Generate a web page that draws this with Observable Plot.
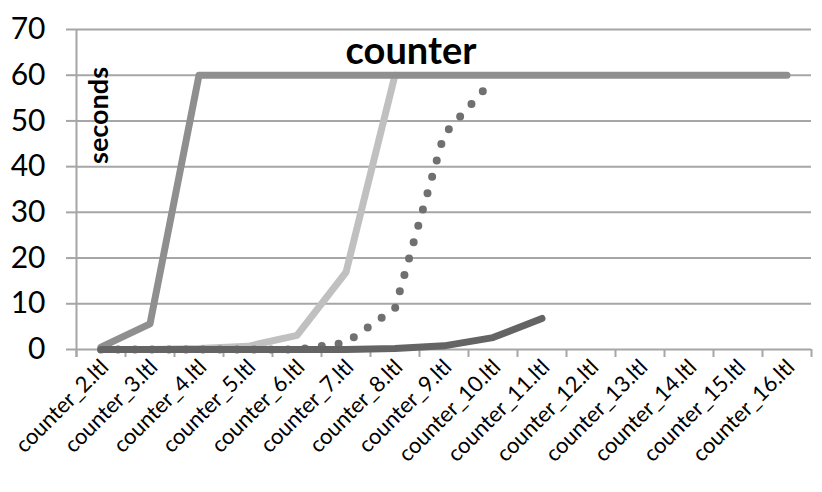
<!DOCTYPE html>
<html>
<head>
<meta charset="utf-8">
<script src="https://cdn.jsdelivr.net/npm/d3@7"></script>
<script src="https://cdn.jsdelivr.net/npm/@observablehq/plot@0.6"></script>
<style>
  html, body { margin: 0; padding: 0; background: #fff; }
  #chart { width: 822px; height: 492px; }
</style>
</head>
<body>
<div id="chart"></div>
<script>
const categories = ["counter_2.ltl","counter_3.ltl","counter_4.ltl","counter_5.ltl","counter_6.ltl",
  "counter_7.ltl","counter_8.ltl","counter_9.ltl","counter_10.ltl","counter_11.ltl","counter_12.ltl",
  "counter_13.ltl","counter_14.ltl","counter_15.ltl","counter_16.ltl"];
const seriesA = [0.5, 5.6, 60, 60, 60, 60, 60, 60, 60, 60, 60, 60, 60, 60, 60];
const seriesB = [0, 0, 0.2, 0.7, 3.1, 16.9, 60];
const seriesC = [0, 0, 0, 0, 0, 1.5, 9, 47, 59];
const seriesD = [0, 0, 0, 0, 0, 0, 0.2, 0.8, 2.6, 6.8];
const yTicks = [0, 10, 20, 30, 40, 50, 60, 70];
const titleText = "counter";
const yLabel = "seconds";

const rows = s => s.map((v, i) => ({i, v}));
const idx = categories.map((c, i) => i);
const bounds = [...idx.map(i => i - 0.5), categories.length - 0.5];
const grid = "#a6a6a6";

const chart = Plot.plot({
  width: 822,
  height: 492,
  marginLeft: 76,
  marginRight: 11,
  marginTop: 29,
  marginBottom: 143,
  style: {fontFamily: "Lato, 'Open Sans', sans-serif", color: "#000", background: "#fff", overflow: "visible"},
  x: {type: "linear", domain: [-0.5, categories.length - 0.5]},
  y: {domain: [0, 70]},
  marks: [
    Plot.ruleY(yTicks, {stroke: grid, strokeWidth: 2}),
    Plot.axisY(yTicks, {tickSize: 10, tickPadding: 21, fontSize: 30, stroke: grid, strokeWidth: 2, tickFormat: d => d, label: null}),
    Plot.ruleX([bounds[0]], {stroke: grid, strokeWidth: 2, insetBottom: -8}),
    Plot.axisX(bounds, {tickSize: 8, stroke: grid, strokeWidth: 2, tickFormat: () => "", label: null}),
    Plot.axisX(idx, {tickSize: 0, tickPadding: 14, dx: 4, tickRotate: -45, fontSize: 22, tickFormat: i => categories[i], label: null}),
    Plot.lineY(rows(seriesB), {x: "i", y: "v", stroke: "#c0c0c0", strokeWidth: 7, strokeLinecap: "round", strokeLinejoin: "round"}),
    Plot.lineY(rows(seriesC), {x: "i", y: "v", stroke: "#707070", strokeWidth: 8, strokeLinecap: "round", strokeDasharray: "0,17"}),
    Plot.lineY(rows(seriesA), {x: "i", y: "v", stroke: "#8f8f8f", strokeWidth: 7, strokeLinecap: "round", strokeLinejoin: "round"}),
    Plot.lineY(rows(seriesD), {x: "i", y: "v", stroke: "#646464", strokeWidth: 7, strokeLinecap: "round", strokeLinejoin: "round"}),
    Plot.text([titleText], {frameAnchor: "top", dx: -33, dy: 22, lineAnchor: "middle", fontSize: 38, fontWeight: "bold", fill: "#000"}),
    Plot.text([yLabel], {frameAnchor: "top-left", dx: 23, dy: 86, rotate: -90, textAnchor: "middle", lineAnchor: "middle", fontSize: 27, fontWeight: "bold", fill: "#000"})
  ]
});
document.getElementById("chart").appendChild(chart);
</script>
</body>
</html>
